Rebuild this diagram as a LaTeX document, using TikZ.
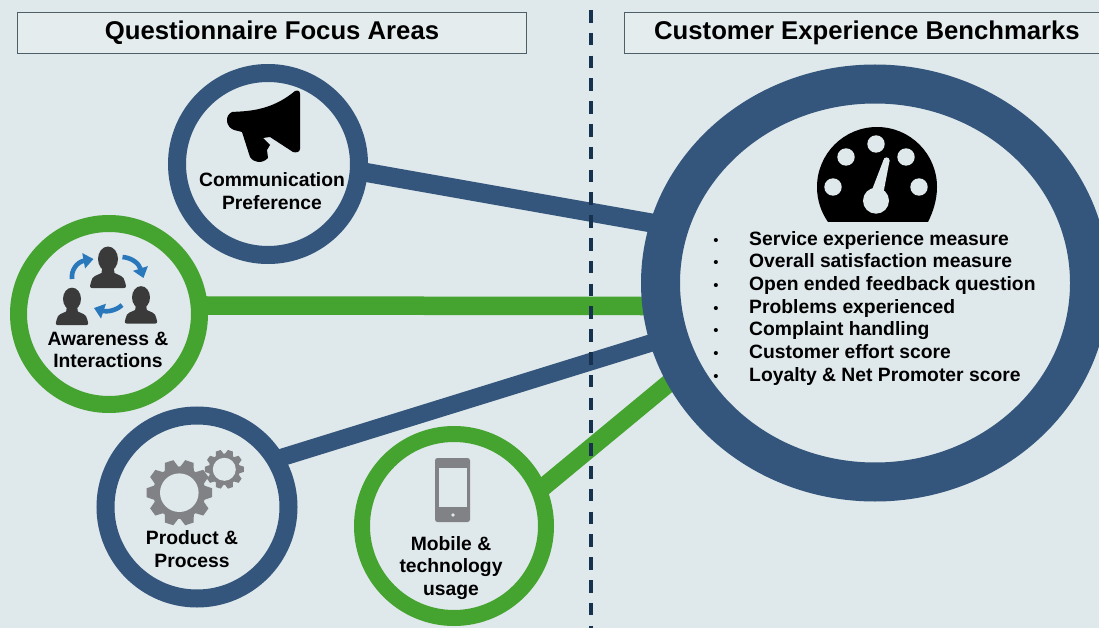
\documentclass[tikz,border=0pt]{standalone}
\usepackage{fontspec}
\setmainfont{Liberation Sans}
\usetikzlibrary{backgrounds,shadows,arrows.meta,calc,shapes.geometric}
\definecolor{bgc}{HTML}{DFE8EB}
\definecolor{navy}{HTML}{34567C}
\definecolor{grn}{HTML}{45A32F}
\definecolor{dashc}{HTML}{16324F}
\definecolor{gearc}{HTML}{808285}
\definecolor{persc}{HTML}{3A3A3A}
\definecolor{arrc}{HTML}{2A78BC}
\definecolor{hdrfill}{HTML}{E4ECEE}
\definecolor{hdrline}{HTML}{4F5F68}
\tikzset{
  x=1pt,y=-1pt,
  ringbase/.style={draw,fill=bgc,line width=#1,inner sep=0pt,
    drop shadow={shadow xshift=0.5pt,shadow yshift=-2pt,opacity=.18}},
  ring/.style={circle,ringbase=#1},
  hdr/.style={draw=hdrline,line width=1pt,fill=hdrfill,anchor=west,minimum height=41pt,inner sep=0pt,font=\fontsize{25.7}{28}\selectfont\bfseries},
  lbl/.style={align=center,inner sep=0pt,font=\fontsize{19.3}{22.8}\selectfont\bfseries},
  conn/.style={line width=#1,shorten <=-8pt,shorten >=-8pt},
  turn/.style={line width=4.6pt,arrc,-{Triangle[length=10pt,width=15pt]}},
  person/.pic={
    \fill[persc] (0,-29) ellipse (10 and 12.5);
    \fill[persc] (-5.5,-22) -- (5.5,-22) -- (6.5,-15) .. controls (11,-12.5) and (16,-12.5) .. (17,-6)
      -- (18,-2) .. controls (18,-0.5) and (17,0) .. (16,0) -- (-16,0) .. controls (-17,0) and (-18,-0.5) .. (-18,-2)
      -- (-17,-6) .. controls (-16,-12.5) and (-11,-12.5) .. (-6.5,-15) -- cycle;
  },
  gearshape/.pic={
    \pgfkeysgetvalue{/gearp/r}{\gr}\pgfkeysgetvalue{/gearp/h}{\gh}\pgfkeysgetvalue{/gearp/t}{\gt}\pgfkeysgetvalue{/gearp/n}{\gn}
    \fill[gearc] (0,0) circle (\gr*0.8);
    \pgfmathsetmacro\gstep{360/\gn}
    \foreach \k in {1,...,\gn}{
      \fill[gearc,rotate=\k*\gstep] (\gr*.76,-\gt*1.3) -- (\gr,-\gt*.8) -- (\gr,\gt*.8) -- (\gr*.76,\gt*1.3) -- cycle;
    }
    \fill[bgc] (0,0) circle (\gh);
  },
}
\pgfkeys{/gearp/.cd,r/.initial=32.8,h/.initial=19.3,t/.initial=5.5,n/.initial=10}
\begin{document}
\begin{tikzpicture}
\useasboundingbox (0,0) rectangle (1099,628);
% main nodes
\node[ring=18pt,draw=navy,minimum size=182pt] (comm) at (268,164) {};
\node[ring=17pt,draw=grn,minimum size=181pt] (aware) at (109,314) {};
\node[ring=18pt,draw=navy,minimum size=183pt] (prod) at (197,507) {};
\node[ring=16pt,draw=grn,minimum size=184pt] (mob) at (454,526) {};
\node[ellipse,ringbase=39pt,draw=navy,minimum width=429pt,minimum height=398pt] (big) at (875,283) {};
\begin{scope}[on background layer]
  \fill[bgc] (0,0) rectangle (1099,628);
  \draw[conn=19pt,navy] (comm.-5.7) -- (big.165);
  \draw[conn=18.5pt,grn] ($(aware.east)+(0,-8.5)$) -- ($(big.west)+(0,23)$);
  \draw[conn=17.5pt,navy] (prod.30) -- (big.195.4);
  \draw[conn=18pt,grn] (mob.24.3) -- (big.206.4);
  \coordinate (dashtop) at (591,10);
  \coordinate (dashbot) at (591,628);
  \draw[dashc,line width=3.2pt,dash pattern=on 12.6pt off 10.2pt] (dashtop) -- (dashbot);
\end{scope}
% headers
\node[hdr,minimum width=509pt] (h1) at (17,33) {\raisebox{-2pt}{Questionnaire Focus Areas}};
\node[hdr,minimum width=490pt] (h2) at (624,33) {\hspace*{-5pt}\raisebox{-2pt}{Customer Experience Benchmarks}};
% megaphone
\fill[black] (295,91) .. controls (298,90) and (300,91) .. (300,94) -- (300,149) .. controls (300,152) and (296,153) .. (293,152)
 -- (270,137) -- (263,138) -- (270,145) -- (267,150) -- (268,158) .. controls (262,164) and (254,163) .. (250,157)
 -- (242,132) -- (234,130) .. controls (226,127) and (224,116) .. (232,112) .. controls (245,111) and (270,112) .. cycle;
% people
\pic at (108,288) {person};
\pic[scale=.9] at (72,325) {person};
\pic[scale=.9] at (141,323.5) {person};
\draw[turn] (72,279) .. controls (71,270) and (77,262) .. (93.5,259);
\draw[turn] (122.5,257) .. controls (133,258) and (139,264) .. (143.5,278);
\draw[turn] (122,305) .. controls (116,311) and (106,312) .. (94,308);
% gears
\pic at (179.3,492.7) {gearshape};
\pgfkeys{/gearp/r=19.5,/gearp/h=11.5,/gearp/t=3.2,/gearp/n=10}
\pic at (224.3,469.3) {gearshape};
% phone
\fill[gearc,rounded corners=2.5pt] (435,458) rectangle (470,522);
\fill[bgc] (438.5,468) rectangle (467,507);
\fill[bgc] (453,515) circle (1.8);
% gauge
\fill[black] (817,187) arc[start angle=180,end angle=360,radius=60] .. controls (937,200) and (933,212) .. (928,222) -- (828,222) .. controls (821,212) and (817,200) .. cycle;
\foreach \px/\py in {833/187,846/157,876/144,906/157,919/187}{\fill[bgc] (\px,\py) circle (8.7);}
\fill[bgc] (876,200.7) circle (13);
\fill[bgc] (870,195) -- (883.5,160) -- (889.5,161) -- (883,195) -- cycle;
\fill[bgc] (886.5,160.5) circle (3.1);
% labels
\node[lbl] (l1) at (272,191) {Communication\\Preference};
\node[lbl] (l2) at (108,350) {Awareness \&\\Interactions};
\node[lbl] (l3) at (192,549) {Product \&\\Process};
\node[lbl] (l4) at (451,568) {Mobile \&\\technology\\usage};
\node[lbl,anchor=north west,align=left,font=\fontsize{19.3}{22.7}\selectfont\bfseries] (list) at (710,231) {%
\makebox[39pt][l]{\normalfont\,\fontsize{15}{15}\selectfont•}Service experience measure\\
\makebox[39pt][l]{\normalfont\,\fontsize{15}{15}\selectfont•}Overall satisfaction measure\\
\makebox[39pt][l]{\normalfont\,\fontsize{15}{15}\selectfont•}Open ended feedback question\\
\makebox[39pt][l]{\normalfont\,\fontsize{15}{15}\selectfont•}Problems experienced\\
\makebox[39pt][l]{\normalfont\,\fontsize{15}{15}\selectfont•}Complaint handling\\
\makebox[39pt][l]{\normalfont\,\fontsize{15}{15}\selectfont•}Customer effort score\\
\makebox[39pt][l]{\normalfont\,\fontsize{15}{15}\selectfont•}Loyalty \& Net Promoter score};
\end{tikzpicture}
\end{document}
